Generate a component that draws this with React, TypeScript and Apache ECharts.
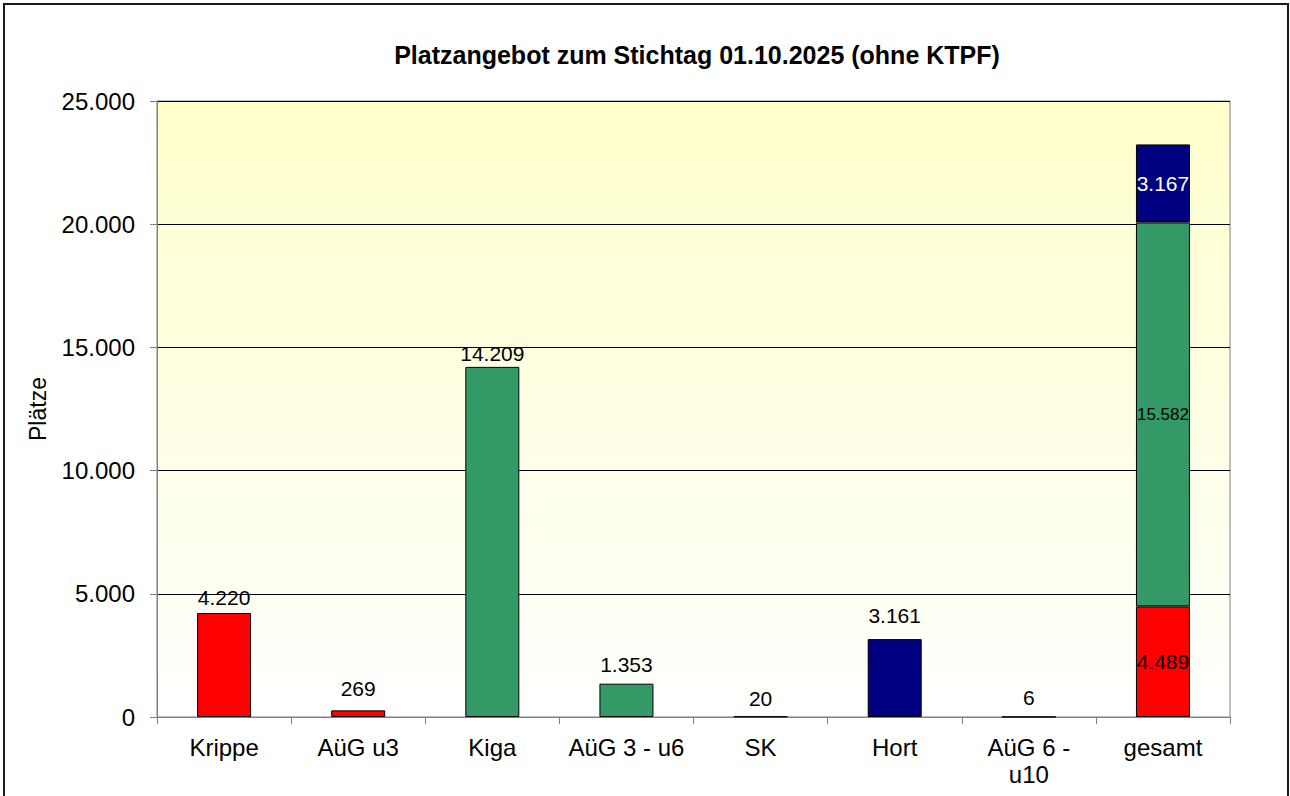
import React, { useEffect, useRef } from "react";
import * as echarts from "echarts";

const title = "Platzangebot zum Stichtag 01.10.2025 (ohne KTPF)";
const yAxisName = "Plätze";
const categories = ["Krippe", "AüG u3", "Kiga", "AüG 3 - u6", "SK", "Hort", "AüG 6 - u10", "gesamt"];
// values per group; "-" = not part of this group
const u3Values = [4220, 269, "-", "-", "-", "-", "-", 4489];
const u6Values = ["-", "-", 14209, 1353, 20, "-", "-", 15582];
const schulValues = ["-", "-", "-", "-", "-", 3161, 6, 3167];
const yTicks = { min: 0, max: 25000, interval: 5000 };

const fmt = (v: number) => String(Math.round(v)).replace(/\B(?=(\d{3})+(?!\d))/g, ".");
const FONT = "Liberation Sans, Arial, sans-serif";

export default function App() {
  const ref = useRef<HTMLDivElement>(null);
  useEffect(() => {
    if (!ref.current) return;
    const chart = echarts.init(ref.current, null, { renderer: "svg" });
    const totalIdx = categories.length - 1;
    const topDist = [5, 11, 3, 9, 7, 13, 8];
    const mk = (vals: (number | string)[], insideColor: string, insideSize: number) =>
      vals.map((v, i) => {
        if (v === "-") return "-";
        if (i === totalIdx) {
          return {
            value: v,
            label: { position: "inside", color: insideColor, fontSize: insideSize },
          };
        }
        return { value: v, label: { distance: topDist[i] } };
      });
    const base = {
      type: "bar",
      stack: "total",
      barWidth: 54,
      itemStyle: { borderColor: "#000", borderWidth: 1 },
      label: {
        show: true,
        position: "top",
        color: "#000",
        fontSize: 21,
        fontFamily: FONT,
        formatter: (p: any) => fmt(p.value),
      },
    };
    chart.setOption({
      animation: false,
      backgroundColor: "#fff",
      title: {
        text: title,
        left: 692,
        top: 37,
        textAlign: "center",
        textStyle: { fontSize: 25, fontWeight: "bold", color: "#000", fontFamily: FONT },
      },
      graphic: [
        {
          type: "rect",
          shape: { x: 4, y: 4, width: 1284, height: 900 },
          style: { fill: "none", stroke: "#1a1a1a", lineWidth: 2 },
          silent: true,
          z: 100,
        },
      ],
      grid: {
        left: 157,
        right: 60,
        top: 101,
        bottom: 79,
        show: true,
        borderColor: "#808080",
        borderWidth: 1,
        backgroundColor: new echarts.graphic.LinearGradient(0, 0, 0, 1, [
          { offset: 0, color: "#FFFFCC" },
          { offset: 1, color: "#FFFFFF" },
        ]),
      },
      xAxis: {
        type: "category",
        data: categories,
        axisLine: { lineStyle: { color: "#808080", width: 1 } },
        axisTick: { show: true, length: 7, lineStyle: { color: "#808080" } },
        axisLabel: {
          interval: 0,
          color: "#000",
          fontSize: 24,
          margin: 17,
          lineHeight: 27,
          fontFamily: FONT,
          formatter: (v: string) => (v === "AüG 6 - u10" ? "AüG 6 -\nu10" : v),
        },
      },
      yAxis: {
        type: "value",
        min: yTicks.min,
        max: yTicks.max,
        interval: yTicks.interval,
        name: yAxisName,
        nameLocation: "middle",
        nameGap: 108,
        nameRotate: 90,
        nameTextStyle: { fontSize: 23, color: "#000", fontFamily: FONT },
        axisLine: { show: true, lineStyle: { color: "#808080", width: 1 } },
        axisTick: { show: true, length: 7, lineStyle: { color: "#808080" } },
        splitLine: { show: true, lineStyle: { color: "#000", width: 1 } },
        axisLabel: {
          color: "#000",
          fontSize: 24,
          margin: 22,
          fontFamily: FONT,
          formatter: (v: number) => fmt(v),
        },
      },
      series: [
        { ...base, name: "u3", data: mk(u3Values, "#000", 21), itemStyle: { ...base.itemStyle, color: "#FF0000" } },
        { ...base, name: "3 - u6", data: mk(u6Values, "#000", 17), itemStyle: { ...base.itemStyle, color: "#339966" } },
        { ...base, name: "Schule", data: mk(schulValues, "#fff", 21), itemStyle: { ...base.itemStyle, color: "#000080" } },
      ],
    });
    return () => chart.dispose();
  }, []);
  return (
    <div
      ref={ref}
      style={{ position: "fixed", left: 0, top: 0, width: 1290, height: 796, background: "#fff" }}
    />
  );
}
